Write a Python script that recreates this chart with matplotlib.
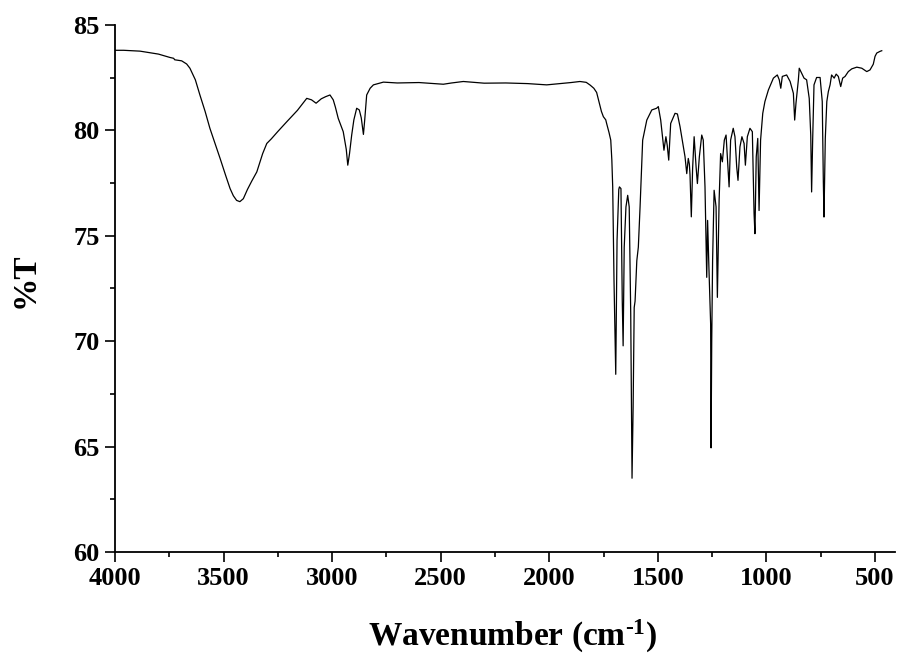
import matplotlib
matplotlib.use('Agg')
import matplotlib.pyplot as plt
from matplotlib.ticker import MultipleLocator

plt.rcParams['font.family'] = 'Liberation Serif'
plt.rcParams['font.weight'] = 'bold'
plt.rcParams['mathtext.fontset'] = 'custom'
plt.rcParams['mathtext.rm'] = 'Liberation Serif:bold'
plt.rcParams['mathtext.bf'] = 'Liberation Serif:bold'
plt.rcParams['mathtext.default'] = 'bf'

# FTIR spectrum (wavenumber in cm-1, transmittance in %)
wavenumber = [
    4000, 3960, 3885, 3800, 3747, 3730, 3725, 3693, 3670, 3655, 3630, 3609, 3585, 3563,
    3540, 3516, 3490, 3470, 3455, 3440, 3425, 3409, 3390, 3370, 3347, 3320, 3301, 3280,
    3250, 3209, 3160, 3117, 3095, 3074, 3050, 3030, 3010, 2995, 2985, 2972, 2949, 2935,
    2928, 2920, 2910, 2900, 2887, 2875, 2866, 2856, 2850, 2841, 2825, 2810, 2764, 2700,
    2600, 2488, 2450, 2396, 2300, 2200, 2100, 2012, 1950, 1900, 1859, 1830, 1812, 1795,
    1782, 1770, 1760, 1751, 1740, 1736, 1725, 1717, 1712, 1708, 1702, 1694, 1688, 1680,
    1677, 1670, 1664, 1660, 1655, 1647, 1639, 1632, 1625, 1619, 1614, 1609, 1605, 1597,
    1590, 1582, 1570, 1551, 1528, 1506, 1498, 1487, 1472, 1463, 1457, 1450, 1441, 1421,
    1410, 1398, 1375, 1367, 1360, 1355, 1352, 1346, 1340, 1333, 1324, 1318, 1309, 1298,
    1291, 1283, 1275, 1271, 1265, 1257, 1255, 1252, 1248, 1241, 1232, 1226, 1218, 1211,
    1203, 1194, 1186, 1179, 1172, 1165, 1153, 1145, 1137, 1131, 1122, 1113, 1103, 1097,
    1088, 1076, 1065, 1057, 1053, 1047, 1040, 1034, 1027, 1017, 1007, 991, 968, 950,
    941, 934, 927, 907, 891, 876, 870, 864, 853, 849, 838, 827, 815, 803,
    796, 792, 787, 781, 769, 753, 743, 738, 735, 729, 722, 715, 707, 700,
    688, 679, 669, 658, 649, 638, 623, 607, 584, 561, 538, 523, 514, 508,
    500, 492, 477, 469,
]
transmittance = [
    83.80, 83.80, 83.76, 83.62, 83.46, 83.42, 83.35, 83.30, 83.15, 82.95, 82.40, 81.68, 80.90, 80.10,
    79.40, 78.67, 77.85, 77.24, 76.90, 76.68, 76.62, 76.76, 77.20, 77.60, 78.03, 78.90, 79.38, 79.60,
    79.95, 80.41, 80.95, 81.52, 81.45, 81.29, 81.50, 81.60, 81.68, 81.45, 81.10, 80.57, 79.94, 79.10,
    78.35, 78.90, 79.78, 80.50, 81.05, 80.97, 80.60, 79.81, 80.50, 81.68, 82.00, 82.16, 82.29, 82.25,
    82.27, 82.19, 82.25, 82.32, 82.24, 82.25, 82.22, 82.16, 82.22, 82.27, 82.32, 82.28, 82.15, 82.00,
    81.80, 81.30, 80.90, 80.65, 80.50, 80.33, 79.90, 79.54, 78.60, 77.32, 72.87, 68.43, 74.78, 77.20,
    77.32, 77.24, 71.92, 69.78, 74.46, 76.37, 76.92, 76.37, 71.29, 63.50, 66.84, 71.60, 71.90, 73.82,
    74.46, 76.37, 79.54, 80.49, 80.97, 81.05, 81.13, 80.49, 79.06, 79.70, 79.30, 78.59, 80.33, 80.81,
    80.78, 80.18, 78.75, 77.95, 78.67, 78.40, 77.90, 75.90, 78.20, 79.70, 78.27, 77.48, 78.75, 79.78,
    79.54, 77.32, 73.03, 75.73, 73.51, 70.81, 64.94, 70.00, 73.82, 77.16, 76.37, 72.08, 76.68, 78.90,
    78.51, 79.54, 79.78, 78.59, 77.32, 79.54, 80.10, 79.70, 78.27, 77.63, 79.22, 79.70, 79.38, 78.35,
    79.70, 80.10, 79.94, 76.05, 75.10, 78.75, 79.62, 76.20, 79.54, 80.81, 81.37, 81.92, 82.48, 82.63,
    82.40, 82.00, 82.56, 82.63, 82.32, 81.76, 80.49, 81.29, 82.40, 82.95, 82.71, 82.48, 82.40, 81.52,
    79.78, 77.08, 79.62, 82.16, 82.51, 82.51, 81.37, 77.56, 75.89, 79.62, 81.37, 81.84, 82.16, 82.63,
    82.48, 82.67, 82.56, 82.08, 82.48, 82.56, 82.79, 82.92, 83.00, 82.95, 82.79, 82.87, 83.03, 83.14,
    83.51, 83.67, 83.75, 83.78,
]

fig = plt.figure(figsize=(8.98, 6.54), dpi=100)
ax = fig.add_axes([115 / 898, 102 / 654, 780 / 898, 527 / 654])

ax.plot(wavenumber, transmittance, color='black', linewidth=0.9)

ax.set_xlim(4000, 408)
ax.set_ylim(60, 85)
ax.xaxis.set_major_locator(MultipleLocator(500))
ax.xaxis.set_minor_locator(MultipleLocator(250))
ax.yaxis.set_major_locator(MultipleLocator(5))
ax.yaxis.set_minor_locator(MultipleLocator(2.5))

for side in ['top', 'right']:
    ax.spines[side].set_visible(False)
for side in ['left', 'bottom']:
    ax.spines[side].set_linewidth(1.3)

ax.tick_params(which='major', direction='out', length=7, width=1.2, labelsize=19, pad=4)
ax.tick_params(which='minor', direction='out', length=3.5, width=1.2)

ax.set_xlabel(r'Wavenumber (cm$^{\text{-1}}$)', fontsize=24, fontweight='bold')
ax.set_ylabel('%T', fontsize=24, fontweight='bold')
ax.xaxis.set_label_coords(0.51, -0.125)
ax.yaxis.set_label_coords(-0.095, 0.515)

fig.savefig('out.png', dpi=100)
